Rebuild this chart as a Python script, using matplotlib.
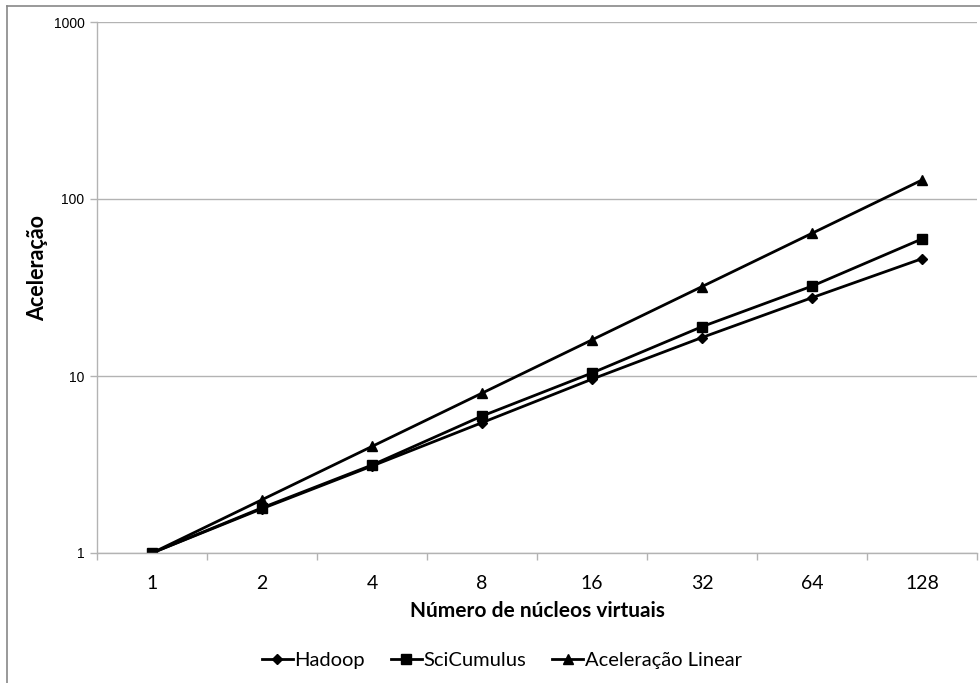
import matplotlib.pyplot as plt
from matplotlib.lines import Line2D

# dados
nucleos = ['1', '2', '4', '8', '16', '32', '64', '128']
hadoop = [1, 1.78, 3.1, 5.45, 9.6, 16.5, 27.7, 46]
scicumulus = [1, 1.8, 3.14, 5.94, 10.4, 19.0, 32.2, 59.5]
linear = [1, 2, 4, 8, 16, 32, 64, 128]

fig = plt.figure(figsize=(9.8, 6.83), dpi=100)
ax = fig.add_axes([97/980, 130/683, 880/980, 531/683])

# borda do grafico (so esquerda e topo aparecem)
fig.add_artist(Line2D([7/980, 7/980], [0, 1 - 6/683], transform=fig.transFigure, color='#888888', lw=1.2))
fig.add_artist(Line2D([7/980, 1], [1 - 6/683, 1 - 6/683], transform=fig.transFigure, color='#888888', lw=1.2))

x = range(len(nucleos))
ax.plot(x, hadoop, color='black', lw=2, marker='D', ms=5.5, label='Hadoop')
ax.plot(x, scicumulus, color='black', lw=2, marker='s', ms=6.5, label='SciCumulus')
ax.plot(x, linear, color='black', lw=2, marker='^', ms=7, label='Aceleração Linear')

ax.set_yscale('log')
ax.set_ylim(1, 1000)
ax.set_xlim(-0.5, len(nucleos) - 0.5)
ax.set_yticks([1, 10, 100, 1000])
ax.set_yticklabels(['1', '10', '100', '1000'], fontsize=10, family='Liberation Sans')
ax.minorticks_off()
ax.yaxis.grid(True, color='#b3b3b3', lw=1)
ax.set_axisbelow(True)

ax.set_xticks(list(x))
ax.set_xticklabels(nucleos, fontsize=14, family='Lato')
ax.tick_params(axis='x', length=0, pad=16)
ax.set_xticks([i - 0.5 for i in range(len(nucleos) + 1)], minor=True)
ax.tick_params(axis='x', which='minor', length=5, color='#b3b3b3', width=1)
ax.tick_params(axis='y', length=5, color='#b3b3b3', width=1, pad=4)

for s in ['top', 'right']:
    ax.spines[s].set_visible(False)
for s in ['left', 'bottom']:
    ax.spines[s].set_color('#b3b3b3')
    ax.spines[s].set_linewidth(1)

ax.set_xlabel('Número de núcleos virtuais', fontsize=15, fontweight='bold', family='Lato', labelpad=6)
ax.set_ylabel('Aceleração', fontsize=15.5, fontweight='bold', family='Lato')
ax.yaxis.set_label_coords(-0.056, 0.537)

fig.legend(loc='center', bbox_to_anchor=(502/980, 1 - 660/683), ncol=3, frameon=False,
           prop={'family': 'Lato', 'size': 14.5}, handlelength=1.5, handletextpad=0.1, columnspacing=1.3)

plt.savefig('out.png')
